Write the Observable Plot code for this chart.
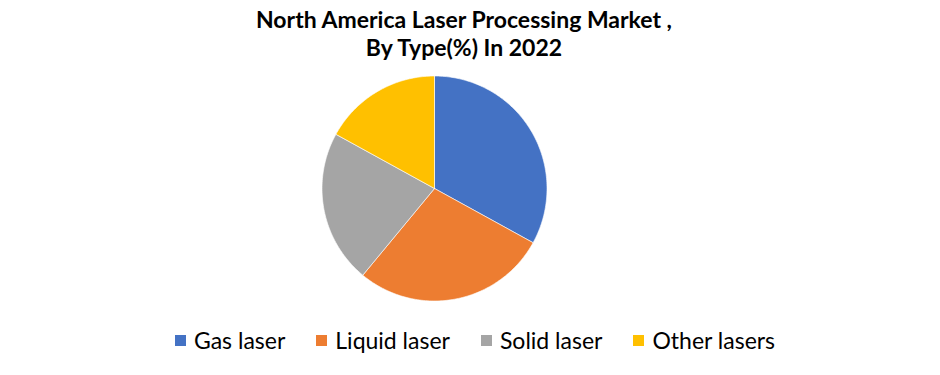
<!DOCTYPE html>
<html>
<head>
<meta charset="utf-8">
<script src="https://cdn.jsdelivr.net/npm/d3@7"></script>
<script src="https://cdn.jsdelivr.net/npm/@observablehq/plot@0.6"></script>
<style>
  html, body { margin: 0; padding: 0; background: #fff; }
  body { width: 940px; height: 375px; overflow: hidden; font-family: Lato, "Open Sans", sans-serif; }
  #title { width: 940px; height: 66px; box-sizing: border-box; padding-top: 5px; text-align: center;
           font-weight: 700; font-size: 23px; line-height: 28px; color: #000; transform: translateX(-6px); }
  #legend { width: 940px; height: 55px; box-sizing: border-box; padding-top: 0px; display: flex; justify-content: center;
            font-size: 23px; line-height: 28px; color: #000; transform: translate(5px, -8px); }
  .item { display: flex; align-items: center; margin: 0 15.5px; }
  .sw { width: 11px; height: 11px; margin-right: 8px; margin-top: 2px; }
  #chart svg { display: block; }
</style>
</head>
<body>
<div id="title">North America Laser Processing Market ,<br>By Type(%) In 2022</div>
<div id="chart"></div>
<div id="legend"></div>
<script>
const types = ["Gas laser", "Liquid laser", "Solid laser", "Other lasers"];
const shares = [33, 28, 22, 17];
const colors = ["#4472C4", "#ED7D31", "#A5A5A5", "#FFC000"];

// Build slice polygons (clockwise from 12 o'clock) in unit-circle coordinates
const total = d3.sum(shares);
const pts = [];
let start = 0;
types.forEach((t, i) => {
  const a0 = start / total * 2 * Math.PI;
  const a1 = (start + shares[i]) / total * 2 * Math.PI;
  pts.push({type: t, x: 0, y: 0});
  const n = Math.max(2, Math.ceil((a1 - a0) / (Math.PI / 180)));
  for (let k = 0; k <= n; k++) {
    const a = a0 + (a1 - a0) * k / n;
    pts.push({type: t, x: Math.sin(a), y: Math.cos(a)});
  }
  pts.push({type: t, x: 0, y: 0});
  start += shares[i];
});

const cx = 434, cy = 122, r = 112.5;
const chart = Plot.plot({
  width: 940,
  height: 254,
  margin: 0,
  x: {domain: [-1, 1], range: [cx - r, cx + r], axis: null},
  y: {domain: [-1, 1], range: [cy + r, cy - r], axis: null},
  color: {domain: types, range: colors},
  marks: [
    Plot.line(pts, {x: "x", y: "y", z: "type", fill: "type", stroke: "white", strokeWidth: 1, strokeOpacity: 0.6, curve: "linear-closed"})
  ]
});
document.getElementById("chart").appendChild(chart);

const legend = document.getElementById("legend");
types.forEach((t, i) => {
  const it = document.createElement("div");
  it.className = "item";
  const sw = document.createElement("div");
  sw.className = "sw";
  sw.style.background = colors[i];
  const lb = document.createElement("span");
  lb.textContent = t;
  it.appendChild(sw);
  it.appendChild(lb);
  legend.appendChild(it);
});
</script>
</body>
</html>
